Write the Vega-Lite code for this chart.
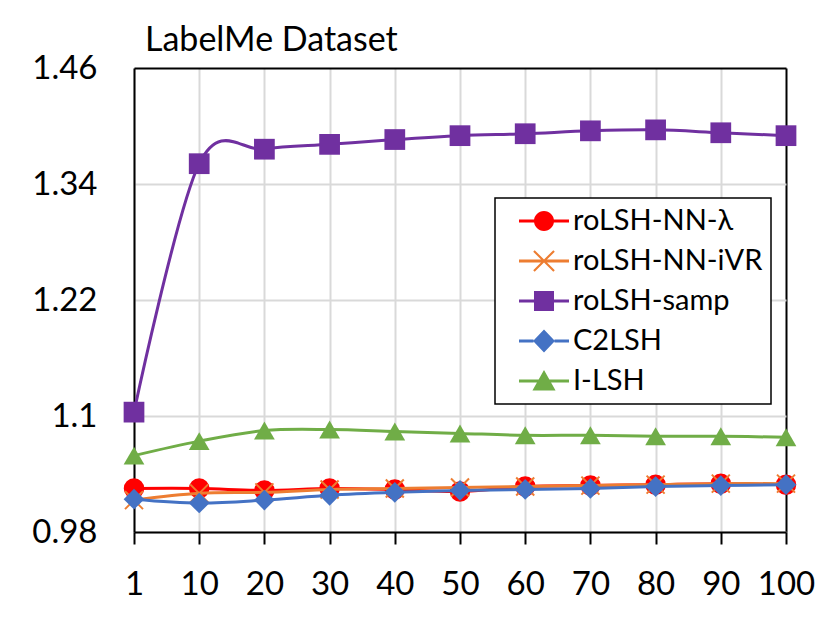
{
  "$schema": "https://vega.github.io/schema/vega-lite/v6.json",
  "autosize": {"type": "none"},
  "width": 652,
  "height": 464,
  "padding": {"left": 134, "top": 68, "right": 45, "bottom": 99},
  "background": "white",
  "title": {
    "text": "LabelMe Dataset",
    "font": "Lato",
    "fontSize": 34,
    "fontWeight": "normal",
    "color": "black",
    "anchor": "start",
    "frame": "group",
    "baseline": "alphabetic",
    "offset": -33,
    "dx": 11
  },
  "data": {
    "values": [
      {"series": "roLSH-NN-λ", "k": 1, "ratio": 1.025},
      {"series": "roLSH-NN-λ", "k": 10, "ratio": 1.025},
      {"series": "roLSH-NN-λ", "k": 20, "ratio": 1.023},
      {"series": "roLSH-NN-λ", "k": 30, "ratio": 1.025},
      {"series": "roLSH-NN-λ", "k": 40, "ratio": 1.024},
      {"series": "roLSH-NN-λ", "k": 50, "ratio": 1.022},
      {"series": "roLSH-NN-λ", "k": 60, "ratio": 1.027},
      {"series": "roLSH-NN-λ", "k": 70, "ratio": 1.028},
      {"series": "roLSH-NN-λ", "k": 80, "ratio": 1.029},
      {"series": "roLSH-NN-λ", "k": 90, "ratio": 1.030},
      {"series": "roLSH-NN-λ", "k": 100, "ratio": 1.029},
      {"series": "roLSH-NN-iVR", "k": 1, "ratio": 1.013},
      {"series": "roLSH-NN-iVR", "k": 10, "ratio": 1.020},
      {"series": "roLSH-NN-iVR", "k": 20, "ratio": 1.021},
      {"series": "roLSH-NN-iVR", "k": 30, "ratio": 1.024},
      {"series": "roLSH-NN-iVR", "k": 40, "ratio": 1.025},
      {"series": "roLSH-NN-iVR", "k": 50, "ratio": 1.026},
      {"series": "roLSH-NN-iVR", "k": 60, "ratio": 1.027},
      {"series": "roLSH-NN-iVR", "k": 70, "ratio": 1.028},
      {"series": "roLSH-NN-iVR", "k": 80, "ratio": 1.029},
      {"series": "roLSH-NN-iVR", "k": 90, "ratio": 1.030},
      {"series": "roLSH-NN-iVR", "k": 100, "ratio": 1.030},
      {"series": "roLSH-samp", "k": 1, "ratio": 1.104},
      {"series": "roLSH-samp", "k": 10, "ratio": 1.361},
      {"series": "roLSH-samp", "k": 20, "ratio": 1.376},
      {"series": "roLSH-samp", "k": 30, "ratio": 1.381},
      {"series": "roLSH-samp", "k": 40, "ratio": 1.386},
      {"series": "roLSH-samp", "k": 50, "ratio": 1.390},
      {"series": "roLSH-samp", "k": 60, "ratio": 1.392},
      {"series": "roLSH-samp", "k": 70, "ratio": 1.395},
      {"series": "roLSH-samp", "k": 80, "ratio": 1.396},
      {"series": "roLSH-samp", "k": 90, "ratio": 1.393},
      {"series": "roLSH-samp", "k": 100, "ratio": 1.390},
      {"series": "C2LSH", "k": 1, "ratio": 1.014},
      {"series": "C2LSH", "k": 10, "ratio": 1.010},
      {"series": "C2LSH", "k": 20, "ratio": 1.013},
      {"series": "C2LSH", "k": 30, "ratio": 1.018},
      {"series": "C2LSH", "k": 40, "ratio": 1.021},
      {"series": "C2LSH", "k": 50, "ratio": 1.023},
      {"series": "C2LSH", "k": 60, "ratio": 1.024},
      {"series": "C2LSH", "k": 70, "ratio": 1.025},
      {"series": "C2LSH", "k": 80, "ratio": 1.027},
      {"series": "C2LSH", "k": 90, "ratio": 1.028},
      {"series": "C2LSH", "k": 100, "ratio": 1.029},
      {"series": "I-LSH", "k": 1, "ratio": 1.059},
      {"series": "I-LSH", "k": 10, "ratio": 1.074},
      {"series": "I-LSH", "k": 20, "ratio": 1.085},
      {"series": "I-LSH", "k": 30, "ratio": 1.086},
      {"series": "I-LSH", "k": 40, "ratio": 1.084},
      {"series": "I-LSH", "k": 50, "ratio": 1.082},
      {"series": "I-LSH", "k": 60, "ratio": 1.080},
      {"series": "I-LSH", "k": 70, "ratio": 1.080},
      {"series": "I-LSH", "k": 80, "ratio": 1.079},
      {"series": "I-LSH", "k": 90, "ratio": 1.079},
      {"series": "I-LSH", "k": 100, "ratio": 1.078}
    ]
  },
  "encoding": {
    "x": {
      "field": "k",
      "type": "ordinal",
      "scale": {"type": "point", "padding": 0},
      "axis": {
        "title": null,
        "labelAngle": 0,
        "labelFontSize": 33,
        "labelPadding": 24,
        "tickSize": 12,
        "tickWidth": 2,
        "tickColor": "black",
        "domainColor": "black",
        "domainWidth": 2,
        "grid": true,
        "gridWidth": 2,
        "gridColor": {"condition": {"test": "datum.value === 100", "value": "black"}, "value": "#d9d9d9"}
      }
    },
    "y": {
      "field": "ratio",
      "type": "quantitative",
      "scale": {"domain": [0.98, 1.46], "nice": false, "zero": false},
      "axis": {
        "title": null,
        "values": [0.98, 1.1, 1.22, 1.34, 1.46],
        "format": ".3~g",
        "labelFontSize": 33,
        "labelPadding": 37,
        "labelFlush": false,
        "labelOverlap": false,
        "ticks": false,
        "domainColor": "black",
        "domainWidth": 2,
        "grid": true,
        "gridWidth": 2,
        "gridColor": {"condition": {"test": "datum.value === 1.46", "value": "black"}, "value": "#d9d9d9"}
      }
    }
  },
  "layer": [
    {
      "transform": [{"filter": "datum.series === 'roLSH-NN-λ'"}],
      "mark": {"type": "line", "interpolate": "cardinal", "strokeWidth": 3, "color": "#FF0000"}
    },
    {
      "transform": [{"filter": "datum.series === 'roLSH-NN-λ'"}],
      "mark": {"type": "point", "shape": "circle", "filled": true, "size": 420, "opacity": 1, "color": "#FF0000"}
    },
    {
      "transform": [{"filter": "datum.series === 'roLSH-NN-iVR'"}],
      "mark": {"type": "line", "interpolate": "cardinal", "strokeWidth": 3, "color": "#ED7D31"}
    },
    {
      "transform": [{"filter": "datum.series === 'roLSH-NN-iVR'"}],
      "mark": {"type": "point", "shape": "M-1,-1L1,1M-1,1L1,-1", "filled": false, "size": 324, "strokeWidth": 2, "opacity": 1, "color": "#ED7D31"}
    },
    {
      "transform": [{"filter": "datum.series !== 'roLSH-NN-λ' && datum.series !== 'roLSH-NN-iVR'"}],
      "mark": {"type": "line", "interpolate": "cardinal", "strokeWidth": 3},
      "encoding": {
        "color": {
          "field": "series",
          "type": "nominal",
          "scale": {"domain": ["roLSH-NN-λ", "roLSH-NN-iVR", "roLSH-samp", "C2LSH", "I-LSH"], "range": ["#FF0000", "#ED7D31", "#7030A0", "#4472C4", "#70AD47"]},
          "legend": null
        }
      }
    },
    {
      "transform": [{"filter": "datum.series !== 'roLSH-NN-λ' && datum.series !== 'roLSH-NN-iVR'"}],
      "mark": {"type": "point", "filled": true, "size": 430, "opacity": 1},
      "encoding": {
        "color": {
          "field": "series",
          "type": "nominal",
          "scale": {"domain": ["roLSH-NN-λ", "roLSH-NN-iVR", "roLSH-samp", "C2LSH", "I-LSH"], "range": ["#FF0000", "#ED7D31", "#7030A0", "#4472C4", "#70AD47"]},
          "legend": null
        },
        "shape": {
          "field": "series",
          "type": "nominal",
          "scale": {"domain": ["roLSH-samp", "C2LSH", "I-LSH"], "range": ["square", "diamond", "triangle-up"]},
          "legend": null
        }
      }
    },
    {
      "mark": {"type": "point", "filled": true, "size": 0, "opacity": 1},
      "encoding": {
        "color": {
          "field": "series",
          "type": "nominal",
          "scale": {"domain": ["roLSH-NN-λ", "roLSH-NN-iVR", "roLSH-samp", "C2LSH", "I-LSH"], "range": ["#FF0000", "#ED7D31", "#7030A0", "#4472C4", "#70AD47"]},
          "legend": {
            "title": null,
            "orient": "none",
            "legendX": 361,
            "legendY": 130,
            "padding": 8,
            "strokeColor": "black",
            "fillColor": "white",
            "labelFont": "Lato",
            "labelFontSize": 29,
            "labelColor": "black",
            "labelLimit": 400,
            "symbolSize": 900,
            "symbolStrokeWidth": 0,
            "symbolOpacity": 1,
            "symbolOffset": 26,
            "labelOffset": 14,
            "rowPadding": 10,
            "encode": {
              "legend": {"update": {"strokeWidth": {"value": 1.5}}}
            }
          }
        },
        "shape": {
          "field": "series",
          "type": "nominal",
          "scale": {
            "domain": ["roLSH-NN-λ", "roLSH-NN-iVR", "roLSH-samp", "C2LSH", "I-LSH"],
            "range": [
              "M-1.667,-0.1H-0.63V0.1H-1.667Z M0.63,-0.1H1.667V0.1H0.63Z M-0.667,0A0.667,0.667 0 1,1 0.667,0A0.667,0.667 0 1,1 -0.667,0Z",
              "M-1.667,-0.1H1.667V0.1H-1.667Z M-0.62,-0.72L0.72,0.62L0.62,0.72L-0.72,-0.62Z M-0.62,0.72L-0.72,0.62L0.62,-0.72L0.72,-0.62Z",
              "M-1.667,-0.1H-0.667V0.1H-1.667Z M0.667,-0.1H1.667V0.1H0.667Z M-0.667,-0.667H0.667V0.667H-0.667Z",
              "M-1.667,-0.1H-0.7V0.1H-1.667Z M0.7,-0.1H1.667V0.1H0.7Z M0,-0.77L0.73,0L0,0.77L-0.73,0Z",
              "M-1.667,-0.1H1.667V0.1H-1.667Z M0,-0.73L0.77,0.63H-0.77Z"
            ]
          }
        }
      }
    }
  ],
  "resolve": {"scale": {"color": "independent", "shape": "independent"}},
  "config": {
    "font": "Lato",
    "view": {"stroke": null},
    "axis": {"labelFont": "Lato", "labelColor": "black"}
  }
}
